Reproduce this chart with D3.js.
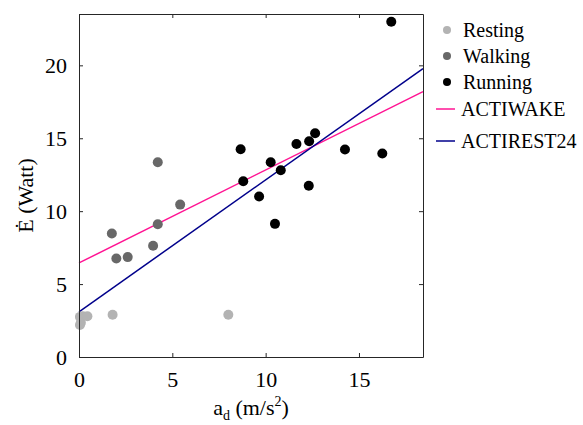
<!DOCTYPE html>
<html>
<head>
<meta charset="UTF-8">
<title>Energy expenditure vs acceleration</title>
<script src="https://d3js.org/d3.v7.min.js"></script>
<style>
    text { font-family: 'Liberation Serif', 'Times New Roman'; }
</style>
</head>
<body style="margin:0">
<svg width="583" height="425"></svg>
<script>
    // data
    const resting = [[0.05, 2.2], [0.1, 2.35], [0.05, 2.75], [0.2, 2.8], [0.45, 2.8], [1.8, 2.9], [8.0, 2.9]];
    const walking = [[1.76, 8.47], [2.0, 6.75], [2.61, 6.85], [3.97, 7.63], [4.22, 9.1], [4.22, 13.35], [5.42, 10.45]];
    const running = [[8.66, 14.25], [8.8, 12.05], [9.65, 11.0], [10.27, 13.36], [10.5, 9.13], [10.81, 12.81],
        [11.65, 14.61], [12.33, 14.79], [12.31, 11.74], [12.65, 15.34], [14.25, 14.23], [16.25, 13.95], [16.73, 22.99]];
    const fitNames = ["ACTIWAKE", "ACTIREST24"];
    const fitIntercepts = [6.45, 3.1];
    const fitSlopes = [0.6375, 0.905];
    const xTicks = [0, 5, 10, 15];
    const yTicks = [0, 5, 10, 15, 20];

    const groups = [
        { name: "Resting", pts: resting, color: "#b3b3b3" },
        { name: "Walking", pts: walking, color: "#686868" },
        { name: "Running", pts: running, color: "#000000" }
    ];
    const fitColors = ["#ff1493", "#00008b"];

    const margin = { top: 14, right: 160, bottom: 68, left: 79 };
    const width = 583 - margin.left - margin.right;
    const height = 425 - margin.top - margin.bottom;

    const svg = d3.select("svg");
    const g = svg.append("g").attr("transform", `translate(${margin.left},${margin.top})`);

    const x = d3.scaleLinear().domain([0, 18.43]).range([0, width]);
    const y = d3.scaleLinear().domain([0, 23.52]).range([height, 0]);

    const axisColor = "#262626";

    // fit lines
    fitNames.forEach((name, i) => {
        const ends = x.domain().map(v => [v, fitIntercepts[i] + fitSlopes[i] * v]);
        g.append("path")
            .datum(ends)
            .attr("fill", "none")
            .attr("stroke", fitColors[i])
            .attr("stroke-width", 1.5)
            .attr("d", d3.line().x(d => x(d[0])).y(d => y(d[1])));
    });

    // scatter points
    groups.forEach(grp => {
        g.selectAll(null)
            .data(grp.pts)
            .enter().append("circle")
            .attr("cx", d => x(d[0]))
            .attr("cy", d => y(d[1]))
            .attr("r", 5)
            .attr("fill", grp.color);
    });

    // axes, ticks pointing inward on all four sides
    function styleAxis(sel) {
        sel.attr("font-family", null).attr("font-size", null);
        sel.select(".domain").attr("stroke", axisColor);
        sel.selectAll(".tick line").attr("stroke", axisColor);
        sel.selectAll("text")
            .style("font", "22px 'Liberation Serif'")
            .attr("fill", "#000");
    }
    g.append("g").attr("transform", `translate(0,${height})`)
        .call(d3.axisBottom(x).tickValues(xTicks).tickSize(-4).tickSizeOuter(0).tickPadding(14))
        .call(styleAxis);
    g.append("g")
        .call(d3.axisLeft(y).tickValues(yTicks).tickSize(-4).tickSizeOuter(0).tickPadding(12))
        .call(styleAxis);
    g.append("g")
        .call(d3.axisTop(x).tickValues(xTicks).tickSize(-4).tickSizeOuter(0).tickFormat(""))
        .call(styleAxis);
    g.append("g").attr("transform", `translate(${width},0)`)
        .call(d3.axisRight(y).tickValues(yTicks).tickSize(-4).tickSizeOuter(0).tickFormat(""))
        .call(styleAxis);

    // axis labels
    const xLabel = svg.append("text")
        .attr("x", margin.left + width / 2)
        .attr("y", 415)
        .attr("text-anchor", "middle")
        .style("font", "22px 'Liberation Serif'");
    xLabel.append("tspan").text("a");
    xLabel.append("tspan").attr("dy", 5).style("font-size", "14px").text("d");
    xLabel.append("tspan").attr("dy", -5).text(" (m/s");
    xLabel.append("tspan").attr("dy", -9).style("font-size", "14px").text("2");
    xLabel.append("tspan").attr("dy", 9).text(")");

    svg.append("text")
        .attr("transform", `translate(33,${margin.top + height / 2 + 10}) rotate(-90)`)
        .attr("text-anchor", "middle")
        .style("font", "22px 'Liberation Serif'")
        .text("Ė (Watt)");

    // legend
    const legX = 447;
    groups.forEach((grp, i) => {
        const ly = 30 + i * 26;
        svg.append("circle").attr("cx", legX).attr("cy", ly).attr("r", 4).attr("fill", grp.color);
        svg.append("text").attr("x", legX + 16).attr("y", ly + 7)
            .style("font", "20px 'Liberation Serif'").text(grp.name);
    });
    fitNames.forEach((name, i) => {
        const ly = 109 + i * 32;
        svg.append("line").attr("x1", legX - 11).attr("x2", legX + 8)
            .attr("y1", ly).attr("y2", ly)
            .attr("stroke", fitColors[i]).attr("stroke-width", 1.5);
        svg.append("text").attr("x", legX + 14).attr("y", ly + 7)
            .style("font", "20px 'Liberation Serif'").text(name);
    });
</script>
</body>
</html>
